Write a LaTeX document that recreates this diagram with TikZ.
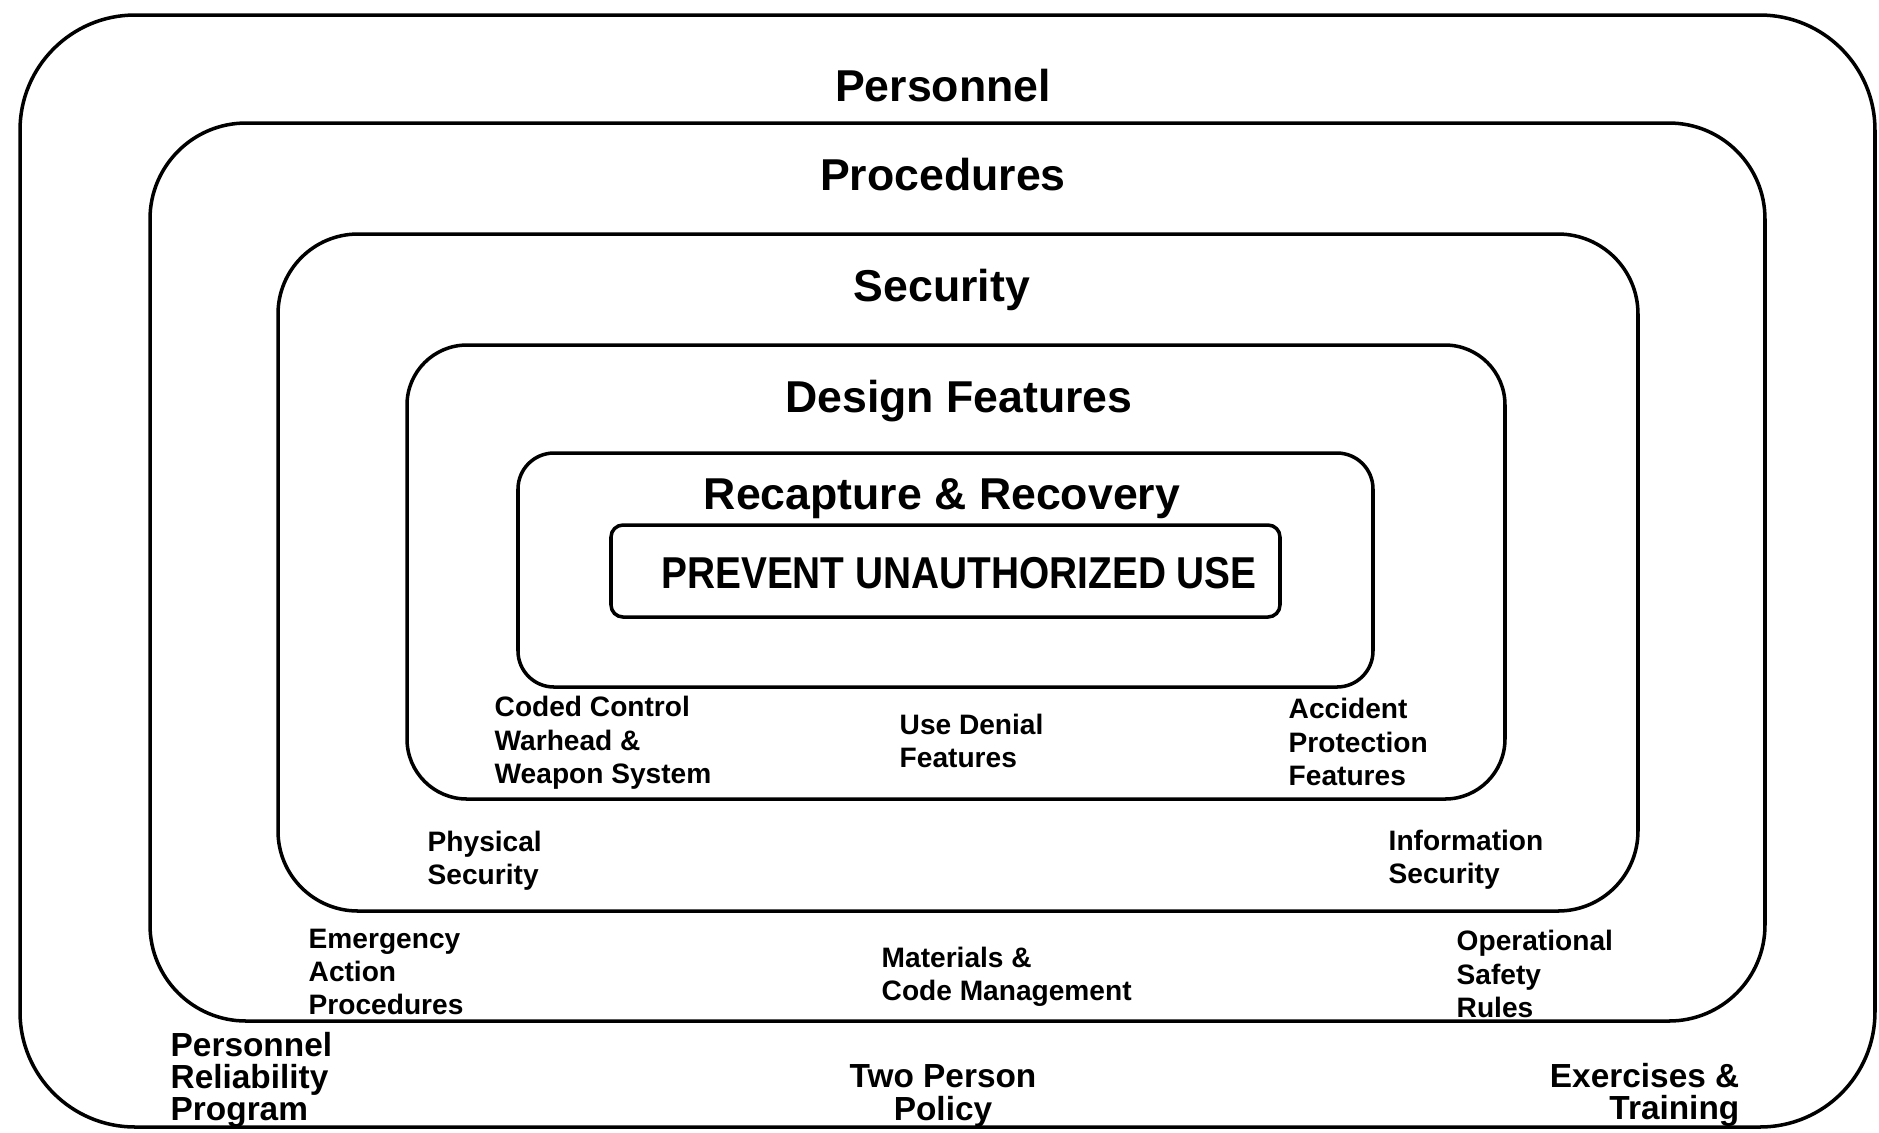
\documentclass[tikz,border=0pt]{standalone}
\usepackage{fontspec}
\setmainfont{Liberation Sans}
\newfontfamily\narrowsf[FakeStretch=0.87]{Liberation Sans}
\usetikzlibrary{positioning}

\begin{document}
\begin{tikzpicture}[
  x=0.1mm, y=-0.1mm,
  layer/.style={rectangle, draw, line width=1pt, inner sep=0pt},
  heading/.style={inner sep=0pt, font=\fontsize{12.7}{15}\selectfont\bfseries},
  item/.style={inner sep=0pt, align=left, anchor=west, font=\fontsize{8}{9.5}\selectfont\bfseries},
  outer item/.style={inner sep=0pt, align=left, anchor=west, font=\fontsize{9.5}{9.2}\selectfont\bfseries}
]
  \useasboundingbox (0,0) rectangle (1879,1132);
  % nested layers, outermost first
  \node[layer, rounded corners=11.5mm, minimum width=185.5mm, minimum height=111.2mm] (personnel) at (947.5,571) {};
  \node[layer, rounded corners=9.6mm, minimum width=161.5mm, minimum height=89.8mm] (procedures) at (957.5,572) {};
  \node[layer, rounded corners=8mm, minimum width=136mm, minimum height=67.7mm] (security) at (958,572.5) {};
  \node[layer, rounded corners=6mm, minimum width=109.8mm, minimum height=45.4mm] (design) at (956,572) {};
  \node[layer, rounded corners=3.6mm, minimum width=85.5mm, minimum height=23.4mm] (recapture) at (945.5,570) {};
  \node[layer, rounded corners=1.2mm, minimum width=66.9mm, minimum height=9.2mm] (prevent) at (945.5,571) {};

  % layer titles
  \node[heading] (personnel title) at (943,86) {Personnel};
  \node[heading] (procedures title) at (943,175) {Procedures};
  \node[heading] (security title) at (942,290) {Security};
  \node[heading] (design title) at (959,401) {Design Features};
  \node[heading] (recapture title) at (942,499) {Recapture \& Recovery};
  \node[inner sep=0pt, font=\fontsize{12.7}{15}\selectfont\narrowsf\bfseries] (prevent title) at (959,573) {PREVENT UNAUTHORIZED USE};

  % design features
  \node[item] (coded) at (494,743) {Coded Control\\Warhead \&\\Weapon System};
  \node[item] (denial) at (899,741) {Use Denial\\Features};
  \node[item] (accident) at (1288,742) {Accident\\Protection\\Features};

  % security
  \node[item] (physical) at (427,861) {Physical\\Security};
  \node[item] (information) at (1388,860) {Information\\Security};

  % procedures
  \node[item] (emergency) at (308,972) {Emergency\\Action\\Procedures};
  \node[item] (materials) at (881,977) {Materials \&\\Code Management};
  \node[item] (operational) at (1456,974) {Operational\\Safety\\Rules};

  % personnel
  \node[outer item] (reliability) at (170,1080) {Personnel\\Reliability\\Program};
  \node[outer item, align=center, anchor=center] (twoperson) at (943,1096) {Two Person\\Policy};
  \node[outer item, align=right, anchor=east] (exercises) at (1740,1095) {Exercises \&\\Training};
\end{tikzpicture}
\end{document}
